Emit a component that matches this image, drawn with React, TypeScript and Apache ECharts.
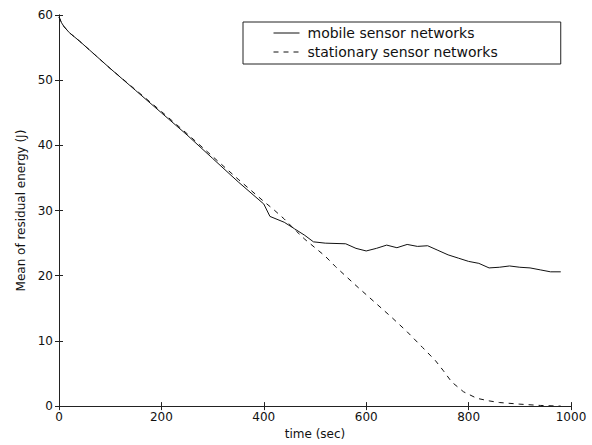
import React, { useEffect, useRef } from "react";
import * as echarts from "echarts";

const mobileTimes = [0, 5, 10, 20, 40, 60, 100, 150, 200, 250, 300, 350, 400, 412, 440, 460, 480, 497, 520, 560, 580, 600, 620, 640, 660, 680, 700, 720, 740, 760, 780, 800, 820, 840, 860, 880, 900, 920, 940, 960, 980];
const mobileValues = [59.7, 58.8, 58.2, 57.3, 56.0, 54.6, 51.8, 48.4, 45.0, 41.6, 38.0, 34.4, 31.0, 29.1, 28.2, 27.2, 26.2, 25.2, 25.0, 24.9, 24.2, 23.8, 24.2, 24.7, 24.3, 24.8, 24.5, 24.6, 23.9, 23.2, 22.7, 22.2, 21.9, 21.2, 21.3, 21.5, 21.3, 21.2, 20.9, 20.6, 20.6];

const stationaryTimes = [0, 5, 10, 20, 40, 60, 100, 150, 200, 250, 300, 350, 400, 420, 440, 464, 480, 500, 520, 540, 580, 620, 650, 680, 710, 735, 750, 767, 790, 816, 840, 860, 900, 940, 980];
const stationaryValues = [59.7, 58.8, 58.2, 57.3, 56.0, 54.6, 51.8, 48.5, 45.2, 41.8, 38.3, 34.8, 31.4, 30.1, 28.7, 26.8, 25.6, 24.3, 23.0, 21.4, 18.5, 15.7, 13.6, 11.4, 9.0, 7.0, 5.5, 3.7, 2.2, 1.2, 0.8, 0.55, 0.3, 0.1, 0.0];

const xTicks = { min: 0, max: 1000, interval: 200 };
const yTicks = { min: 0, max: 60, interval: 10 };

const FONT = "DejaVu Sans";

export default function App() {
  const ref = useRef<HTMLDivElement>(null);
  useEffect(() => {
    if (!ref.current) return;
    const chart = echarts.init(ref.current, undefined, { renderer: "svg" });
    const axisLine = { show: true, lineStyle: { color: "#222", width: 1 } };
    const tick = { show: true, inside: true, length: 4, lineStyle: { color: "#222" } };
    chart.setOption({
      animation: false,
      backgroundColor: "#fff",
      grid: { left: 59, top: 15, right: 21, bottom: 32, containLabel: false },
      legend: {
        orient: "vertical",
        left: 243,
        top: 22,
        padding: [4, 63, 5, 30],
        itemGap: 5,
        itemWidth: 26,
        itemHeight: 14,
        itemStyle: { opacity: 0 },
        lineStyle: { width: 1 },
        borderColor: "#222",
        borderWidth: 1,
        borderRadius: 0,
        textStyle: { fontFamily: FONT, fontSize: 14, color: "#111", padding: [0, 0, 0, 3] },
        data: ["mobile sensor networks", "stationary sensor networks"],
      },
      xAxis: [
        {
          type: "value",
          ...xTicks,
          position: "bottom",
          name: "time (sec)",
          nameLocation: "middle",
          nameGap: 18,
          nameTextStyle: { fontFamily: FONT, fontSize: 12, color: "#111" },
          axisLine,
          axisTick: tick,
          axisLabel: { fontFamily: FONT, fontSize: 12, color: "#111", margin: 5, formatter: (v: number) => String(v) },
          splitLine: { show: false },
        },
        {
          type: "value",
          ...xTicks,
          position: "top",
          axisLine,
          axisTick: tick,
          axisLabel: { show: false },
          splitLine: { show: false },
        },
      ],
      yAxis: [
        {
          type: "value",
          ...yTicks,
          position: "left",
          name: "Mean of residual energy (J)",
          nameLocation: "middle",
          nameGap: 28,
          nameTextStyle: { fontFamily: FONT, fontSize: 12, color: "#111" },
          axisLine,
          axisTick: tick,
          axisLabel: { fontFamily: FONT, fontSize: 12, color: "#111", margin: 6 },
          splitLine: { show: false },
        },
        {
          type: "value",
          ...yTicks,
          position: "right",
          axisLine,
          axisTick: tick,
          axisLabel: { show: false },
          splitLine: { show: false },
        },
      ],
      series: [
        {
          name: "mobile sensor networks",
          type: "line",
          symbol: "none",
          data: mobileTimes.map((t, i) => [t, mobileValues[i]]),
          lineStyle: { color: "#111", width: 1 },
          itemStyle: { color: "#111" },
        },
        {
          name: "stationary sensor networks",
          type: "line",
          symbol: "none",
          data: stationaryTimes.map((t, i) => [t, stationaryValues[i]]),
          lineStyle: { color: "#111", width: 1, type: [5, 5] },
          itemStyle: { color: "#111" },
        },
      ],
    });
    return () => chart.dispose();
  }, []);
  return <div ref={ref} style={{ width: 592, height: 445, position: "absolute", left: 0, top: 0 }} />;
}
